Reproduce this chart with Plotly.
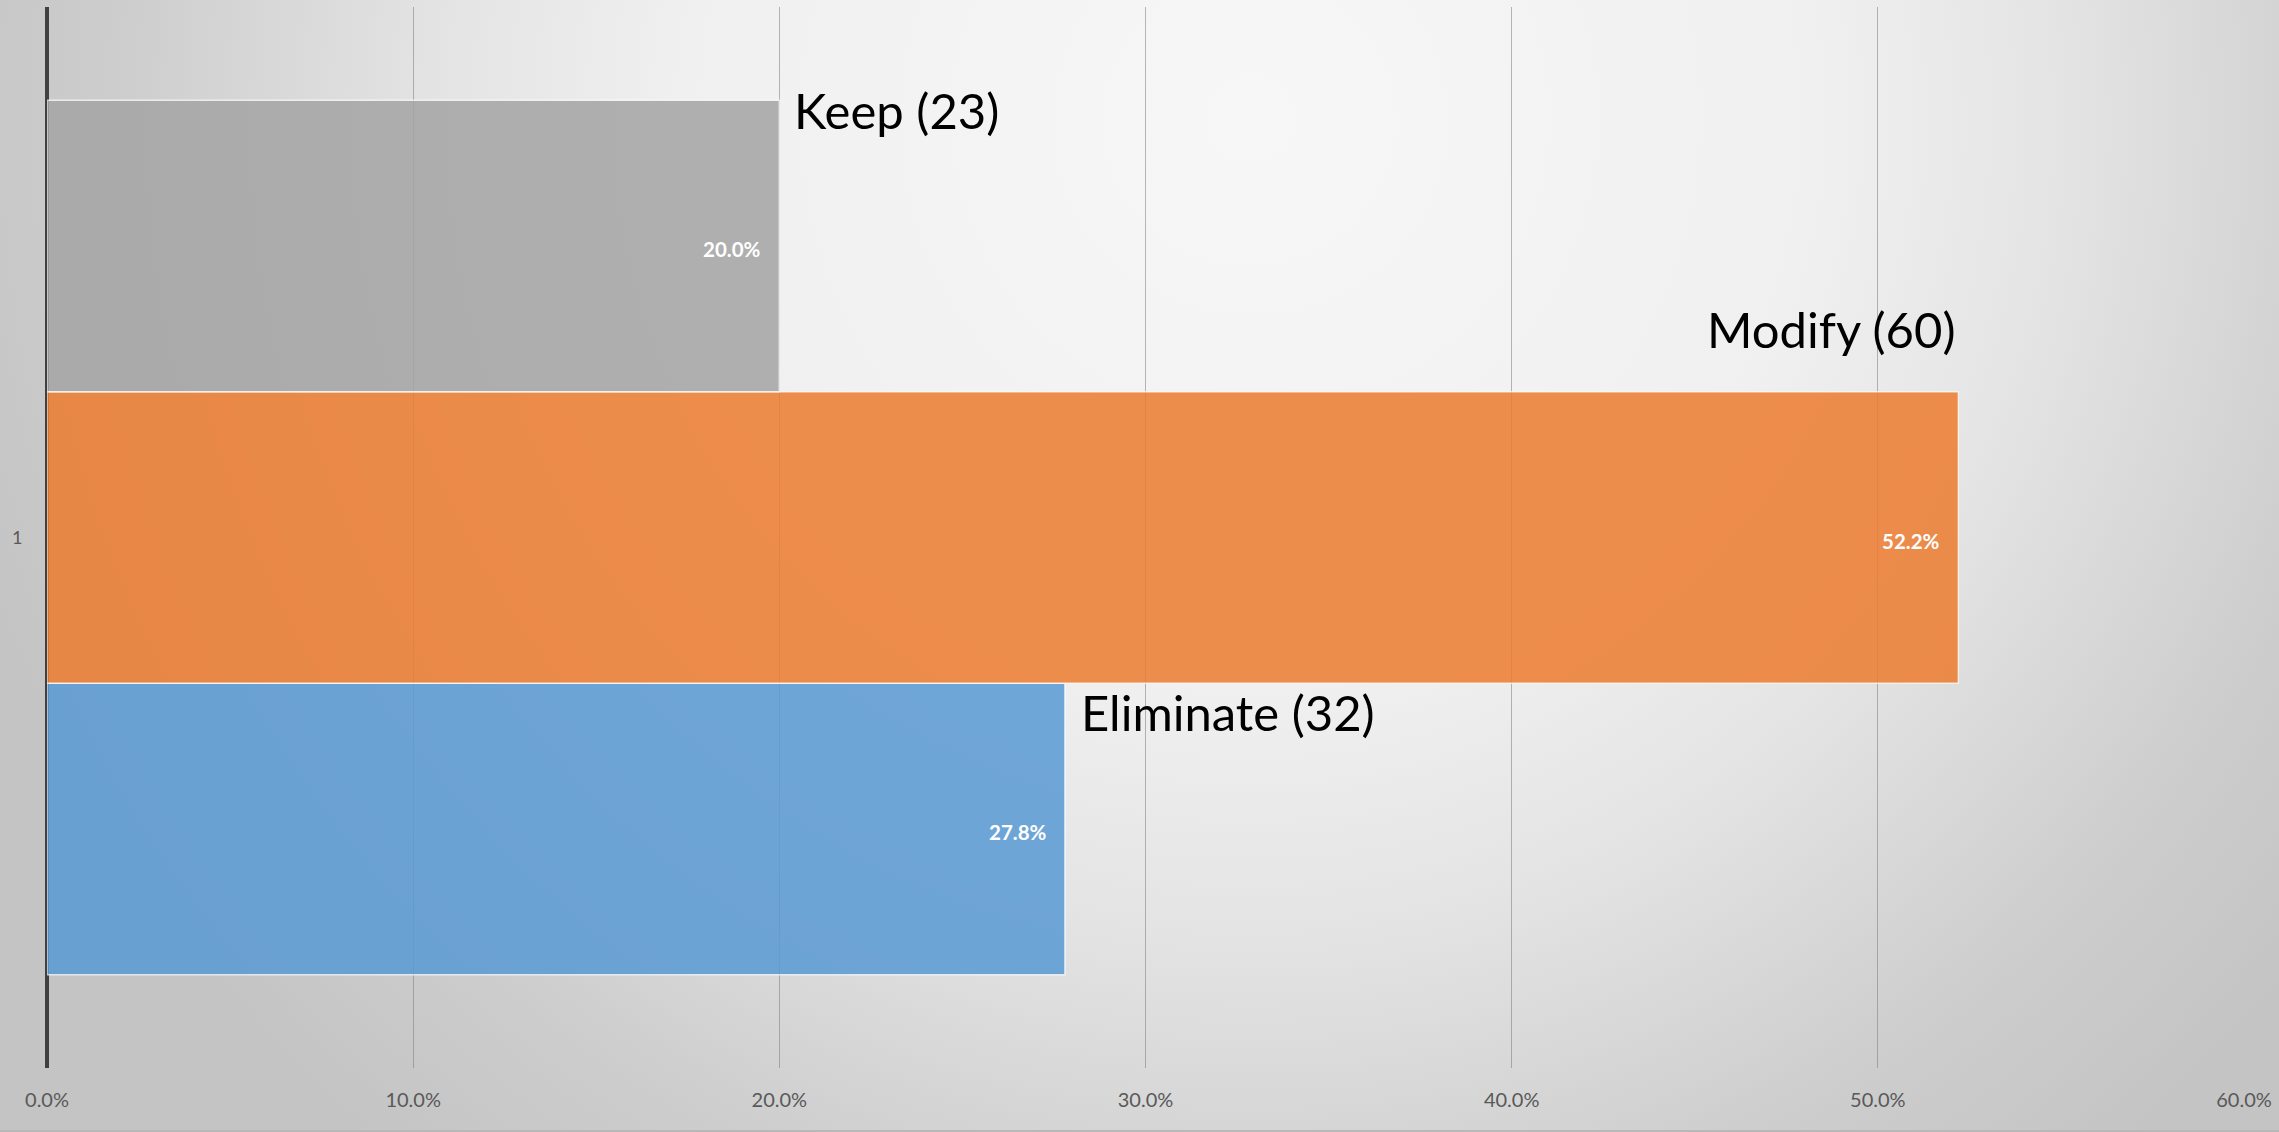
import base64
import plotly.graph_objects as go

# ---------------- data ----------------
categories = ["1"]
series_names = ["Eliminate", "Modify", "Keep"]          # bottom -> top
series_counts = [32, 60, 23]
series_values = [0.278, 0.522, 0.200]
x_tick_values = [0.0, 0.1, 0.2, 0.3, 0.4, 0.5, 0.6]
x_tick_labels = ["0.0%", "10.0%", "20.0%", "30.0%", "40.0%", "50.0%", "60.0%"]

# ---------------- style ----------------
W, H = 2279, 1132
M_L, M_R, M_T, M_B = 47, 35, 7, 64
PLOT_W = W - M_L - M_R
PLOT_H = H - M_T - M_B
BARGAP = 0.176
FONT = "Lato"
series_colors = ["#5B9BD5", "#ED7D31", "#A5A5A5"]
BAR_OPACITY = 0.86
# name-label placement per series: (xanchor, xshift, yshift relative to bar centre)
name_label_style = [("left", 14, 117), ("right", 0, 209), ("left", 13, 136)]

bar_px = (1 - BARGAP) * PLOT_H / len(series_names)

# background radial gradient as an SVG image
svg = f'''<svg xmlns="http://www.w3.org/2000/svg" width="{W}" height="{H}" viewBox="0 0 {W} {H}" preserveAspectRatio="none">
<defs><radialGradient id="g" gradientUnits="userSpaceOnUse" cx="1250" cy="120" r="1350">
<stop offset="0" stop-color="#F7F7F7"/>
<stop offset="0.42" stop-color="#F0F0F0"/>
<stop offset="0.6" stop-color="#E4E4E4"/>
<stop offset="0.84" stop-color="#CDCDCD"/>
<stop offset="1" stop-color="#C4C4C4"/>
</radialGradient></defs>
<rect x="0" y="0" width="{W}" height="{H}" fill="url(#g)"/>
<line x1="0" y1="{H-1}" x2="{W}" y2="{H-1}" stroke="#B8B8B8" stroke-width="2"/>
</svg>'''
svg_uri = "data:image/svg+xml;base64," + base64.b64encode(svg.encode()).decode()

fig = go.Figure()
for name, val, col in zip(series_names, series_values, series_colors):
    fig.add_trace(go.Bar(
        y=categories, x=[val], name=name, orientation="h",
        marker=dict(color=col, opacity=BAR_OPACITY,
                    line=dict(color="rgba(255,255,255,0.8)", width=1.5)),
        hoverinfo="skip",
    ))

annotations = []
n = len(series_names)
for i, (name, cnt, val) in enumerate(zip(series_names, series_counts, series_values)):
    centre_shift = (i - (n - 1) / 2) * bar_px
    # value label inside bar end
    annotations.append(dict(
        x=val, y=0, xref="x", yref="y",
        text=f"<b>{val*100:.1f}%</b>", showarrow=False,
        xanchor="right", yanchor="middle", xshift=-16, yshift=centre_shift - 3,
        font=dict(family=FONT, size=20.5, color="white"),
    ))
    xa, xs, ys = name_label_style[i]
    annotations.append(dict(
        x=val, y=0, xref="x", yref="y",
        text=f"{name} ({cnt})", showarrow=False,
        xanchor=xa, yanchor="middle", xshift=xs, yshift=centre_shift + ys,
        font=dict(family=FONT, size=49, color="black"),
    ))

fig.update_layout(
    width=W, height=H,
    margin=dict(l=M_L, r=M_R, t=M_T, b=M_B, pad=0),
    paper_bgcolor="#DDDDDD", plot_bgcolor="rgba(0,0,0,0)",
    barmode="group", bargap=BARGAP, bargroupgap=0,
    showlegend=False,
    font=dict(family=FONT, size=20, color="#595959"),
    annotations=annotations,
    images=[dict(
        source=svg_uri, xref="paper", yref="paper",
        x=-M_L / PLOT_W, y=1 + M_T / PLOT_H,
        sizex=W / PLOT_W, sizey=H / PLOT_H,
        xanchor="left", yanchor="top", sizing="stretch", layer="below",
    )],
    xaxis=dict(
        range=[0, 0.6], autorange=False, tickvals=x_tick_values, ticktext=x_tick_labels,
        showgrid=True, gridcolor="rgba(125,125,125,0.55)", gridwidth=1.3,
        zeroline=True, zerolinecolor="#404040", zerolinewidth=4,
        showline=False, ticks="outside", ticklen=14, tickcolor="rgba(0,0,0,0)",
        tickfont=dict(family=FONT, size=20, color="#595959"),
        fixedrange=True,
    ),
    yaxis=dict(
        type="category", categoryorder="array", categoryarray=categories,
        range=[-0.5, 0.5], autorange=False,
        showgrid=False, zeroline=False, showline=False,
        ticks="outside", ticklen=20, tickcolor="rgba(0,0,0,0)",
        tickfont=dict(family=FONT, size=18, color="#595959"),
        fixedrange=True,
    ),
)

fig.write_html(
    "out.html",
    config={"displayModeBar": False},
    post_script="document.body.style.margin='0';document.body.style.overflow='hidden';",
)
